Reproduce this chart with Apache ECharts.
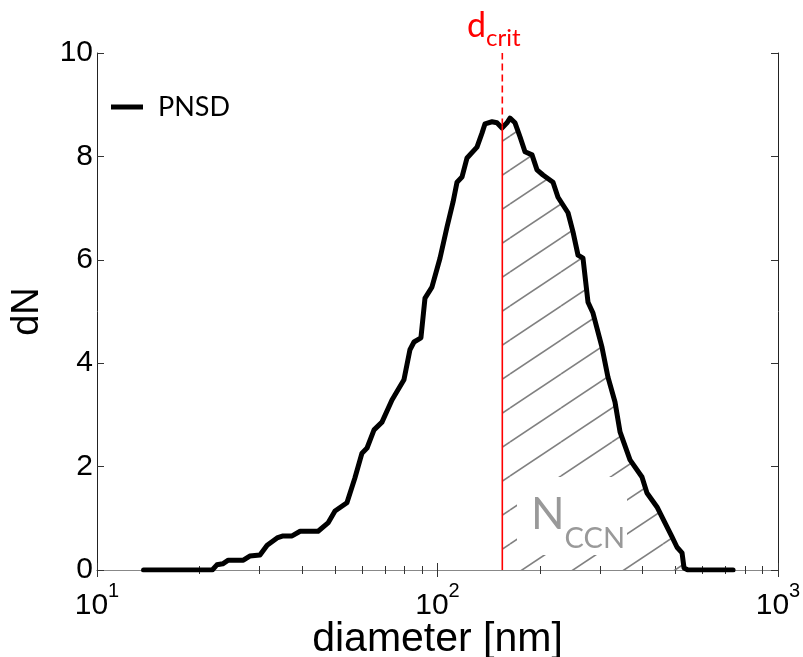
<!DOCTYPE html>
<html><head><meta charset="utf-8">
<script src="https://cdn.jsdelivr.net/npm/echarts@6/dist/echarts.min.js"></script>
<style>html,body{margin:0;padding:0;background:#fff}#c{width:803px;height:657px}</style>
</head><body><div id="c"></div>
<script>
// ---- data ----
const diameters = [13.7, 21.8, 22.5, 23.4, 24.3, 26.9, 28.1, 30.1, 31.6, 33.8, 35.2, 37.4, 39.5, 44.6, 47.7, 50.0, 54.2, 57.2, 60.0, 62.1, 65.1, 68.7, 73.5, 79.7, 83.0, 85.3, 89.4, 91.9, 94.4, 96.3, 101.7, 106.6, 111.1, 114.1, 118.0, 122.1, 130.6, 135.1, 137.9, 144.6, 149.5, 154.7, 160.0, 163.3, 168.9, 174.7, 180.7, 189.5, 196.0, 204.1, 218.4, 225.9, 241.7, 250.0, 258.6, 267.5, 276.7, 286.2, 304.1, 316.7, 332.1, 343.6, 367.6, 398.6, 412.3, 441.2, 465.7, 488.4, 505.2, 522.6, 529.7, 544, 738];
const dNValues = [0, 0, 0.1, 0.12, 0.19, 0.19, 0.27, 0.29, 0.48, 0.62, 0.66, 0.66, 0.75, 0.75, 0.91, 1.14, 1.30, 1.78, 2.26, 2.36, 2.71, 2.86, 3.29, 3.68, 4.26, 4.41, 4.49, 5.26, 5.38, 5.47, 6.03, 6.63, 7.12, 7.50, 7.60, 7.97, 8.18, 8.45, 8.63, 8.67, 8.65, 8.55, 8.65, 8.74, 8.65, 8.38, 8.09, 8.03, 7.74, 7.64, 7.50, 7.21, 6.91, 6.54, 6.09, 6.03, 5.18, 4.97, 4.31, 3.73, 3.25, 2.67, 2.13, 1.80, 1.49, 1.22, 0.91, 0.64, 0.44, 0.33, 0.04, 0, 0];
const xRange = [10, 1000];
const yRange = [0, 10];
const yInterval = 2;
const dCrit = 155;
const dCritN = 8.6;
const seriesName = 'PNSD';

// ---- build ----
const curve = diameters.map((d, i) => [d, dNValues[i]]);
const hatch = [[dCrit, dCritN]].concat(curve.filter(p => p[0] > dCrit));

const tile = document.createElement('canvas');
const TW = 51, TH = 34;
tile.width = TW; tile.height = TH;
const tc = tile.getContext('2d');
tc.strokeStyle = '#808080';
tc.lineWidth = 1.6;
for (let k = -1; k <= 1; k++) {
  tc.beginPath();
  tc.moveTo(0, TH + k * TH);
  tc.lineTo(TW, k * TH);
  tc.stroke();
}

const ARIAL = 'Liberation Sans';
const CAL = 'Lato';

const chart = echarts.init(document.getElementById('c'), null, {renderer: 'canvas'});
const xCommon = {
  type: 'log', logBase: 10, min: xRange[0], max: xRange[1],
  splitLine: {show: false}, minorSplitLine: {show: false},
  axisTick: {show: true, inside: true, length: 7, lineStyle: {color: '#333', width: 1}},
  minorTick: {show: true, splitNumber: 9, length: 4, lineStyle: {color: '#333', width: 1}},
  axisLine: {show: true, lineStyle: {color: '#888', width: 1}}
};
const yCommon = {
  type: 'value', min: yRange[0], max: yRange[1], interval: yInterval,
  splitLine: {show: false},
  axisTick: {show: true, inside: true, length: 7, lineStyle: {color: '#333', width: 1}},
  axisLine: {show: true, lineStyle: {color: '#222', width: 1}}
};

chart.setOption({
  animation: false,
  backgroundColor: '#fff',
  grid: {left: 97, right: 25, top: 53, bottom: 87, containLabel: false, outerBoundsMode: 'none'},
  legend: {
    data: [seriesName], left: 106, top: 87,
    icon: 'rect', itemWidth: 32, itemHeight: 5,
    itemStyle: {color: '#000'},
    textStyle: {fontFamily: CAL, fontSize: 27, color: '#000', lineHeight: 30, padding: [0, 0, 0, 10]}
  },
  xAxis: [
    Object.assign({}, xCommon, {
      position: 'bottom',
      axisLabel: {
        margin: 11, color: '#000',
        formatter: v => '{b|10}{s|' + Math.round(Math.log10(v)) + '}',
        rich: {
          b: {fontFamily: ARIAL, fontSize: 30, lineHeight: 40, verticalAlign: 'bottom', color: '#000'},
          s: {fontFamily: ARIAL, fontSize: 20, lineHeight: 20, verticalAlign: 'top', color: '#000'}
        }
      },
      name: 'diameter [nm]', nameLocation: 'middle', nameGap: 49, nameMoveOverlap: false,
      nameTextStyle: {fontFamily: ARIAL, fontSize: 41, color: '#000'}
    }),
    Object.assign({}, xCommon, {position: 'top', axisLabel: {show: false}})
  ],
  yAxis: [
    Object.assign({}, yCommon, {
      position: 'left',
      axisLabel: {margin: 4, fontFamily: ARIAL, fontSize: 30, color: '#000'},
      name: 'dN', nameLocation: 'middle', nameGap: 50, nameMoveOverlap: false,
      nameTextStyle: {fontFamily: ARIAL, fontSize: 38, color: '#000'}
    }),
    Object.assign({}, yCommon, {position: 'right', axisLabel: {show: false}})
  ],
  series: [
    {
      name: 'hatch', type: 'line', data: hatch, symbol: 'none', z: 1,
      lineStyle: {width: 0, opacity: 0},
      areaStyle: {color: {image: tile, repeat: 'repeat'}, opacity: 1},
      silent: true
    },
    {
      name: seriesName, type: 'line', data: curve, symbol: 'none', z: 3,
      lineStyle: {color: '#000', width: 5, join: 'round', cap: 'round'},
      itemStyle: {color: '#000'}
    },
    {
      name: 'dcrit', type: 'line', data: [[dCrit, 0], [dCrit, dCritN]], symbol: 'none', z: 4,
      lineStyle: {color: '#ff0000', width: 1.6}
    },
    {
      name: 'dcritDash', type: 'line', data: [[dCrit, dCritN], [dCrit, yRange[1]]], symbol: 'none', z: 4,
      lineStyle: {color: '#ff0000', width: 1.6, type: [7, 4]}
    }
  ],
  graphic: [
    {type: 'rect', z: 100, shape: {x: 517, y: 477, width: 110, height: 78}, style: {fill: '#fff'}},
    {type: 'text', z: 101, left: 531, top: 493,
      style: {
        text: '{n|N}{c|CCN}',
        rich: {
          n: {fontFamily: CAL, fontSize: 44, fill: '#999', lineHeight: 44, verticalAlign: 'bottom', padding: [0, 0, 16, 0]},
          c: {fontFamily: CAL, fontSize: 29, fill: '#999', lineHeight: 29, verticalAlign: 'bottom'}
        }
      }
    },
    {type: 'text', z: 101, left: 467, top: 9,
      style: {
        text: '{d|d}{s|crit}',
        rich: {
          d: {fontFamily: CAL, fontSize: 34, fill: '#ff0000', lineHeight: 34, verticalAlign: 'bottom', padding: [0, 0, 7, 0]},
          s: {fontFamily: CAL, fontSize: 24, fill: '#ff0000', lineHeight: 24, verticalAlign: 'bottom'}
        }
      }
    }
  ]
});
</script>
</body></html>
